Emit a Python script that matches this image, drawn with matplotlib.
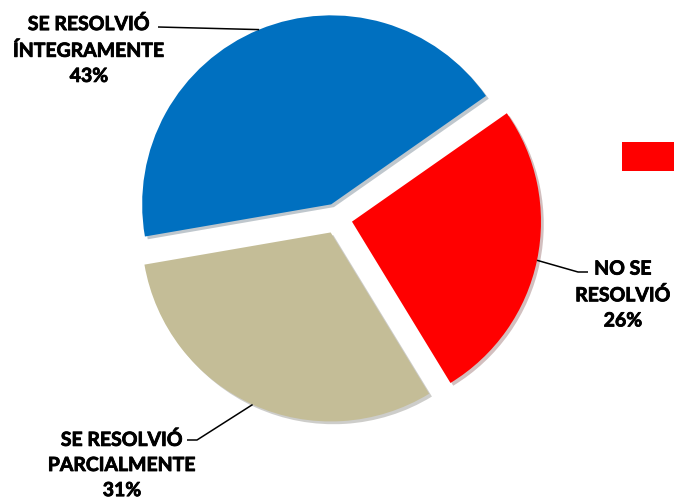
import numpy as np
import matplotlib
matplotlib.use("Agg")
import matplotlib.pyplot as plt
import matplotlib.patheffects as pe
from matplotlib.patches import Rectangle

# data
categories = ["SE RESOLVIÓ\nÍNTEGRAMENTE", "SE RESOLVIÓ\nPARCIALMENTE", "NO SE\nRESOLVIÓ"]
shares = [43, 31, 26]
colors = ["#0070C0", "#C4BD97", "#FF0000"]

# pixel geometry of the reference (center, radius)
W, H = 674, 502
CX, CY, R = 337, 219.5, 189.0


def px(x, y):
    """pixel coords (y down) -> data coords where the pie radius is 1"""
    return (x - CX) / R, (CY - y) / R


fig = plt.figure(figsize=(W / 100, H / 100), dpi=100)
ax = fig.add_axes([0, 0, 1, 1])

wedges, _ = ax.pie(shares, colors=colors, startangle=35, counterclock=True,
                   explode=[0.081] * 3, radius=1.0,
                   wedgeprops=dict(linewidth=0))
for w in wedges:
    w.set_path_effects([pe.SimplePatchShadow(offset=(2, -2), alpha=0.25), pe.Normal()])

ax.set_xlim(-CX / R, (W - CX) / R)
ax.set_ylim((CY - H) / R, CY / R)
ax.set_aspect("auto")
ax.axis("off")

# label text centers and leader-line elbows (pixels)
label_pos = [(89, 51), (122, 466), (623, 296)]
elbows = [[(158, 28)], [(197, 441), (187, 441)], [(578, 273), (588, 273)]]

for w, cat, val, (lx, ly), elb in zip(wedges, categories, shares, label_pos, elbows):
    mid = np.deg2rad((w.theta1 + w.theta2) / 2)
    cx, cy = w.center
    edge = (cx + np.cos(mid), cy + np.sin(mid))
    pts = [edge] + [px(*p) for p in elb]
    xs, ys = zip(*pts)
    ax.plot(xs, ys, color="black", lw=1.1, solid_capstyle="butt")
    tx, ty = px(lx, ly)
    t = ax.text(tx, ty, f"{cat}\n{val}%", ha="center", va="center",
                fontsize=14, fontweight="bold", family="Lato",
                linespacing=1.58, color="black")
    # a thin stroke makes Lato look closer to the heavy original
    t.set_path_effects([pe.withStroke(linewidth=0.6, foreground="black")])

# truncated legend key on the right edge
fig.patches.append(Rectangle((622 / W, (H - 172) / H), 52 / W, 29 / H,
                             transform=fig.transFigure, facecolor="#FF0000",
                             edgecolor="none"))

fig.savefig("out.png", dpi=100)
